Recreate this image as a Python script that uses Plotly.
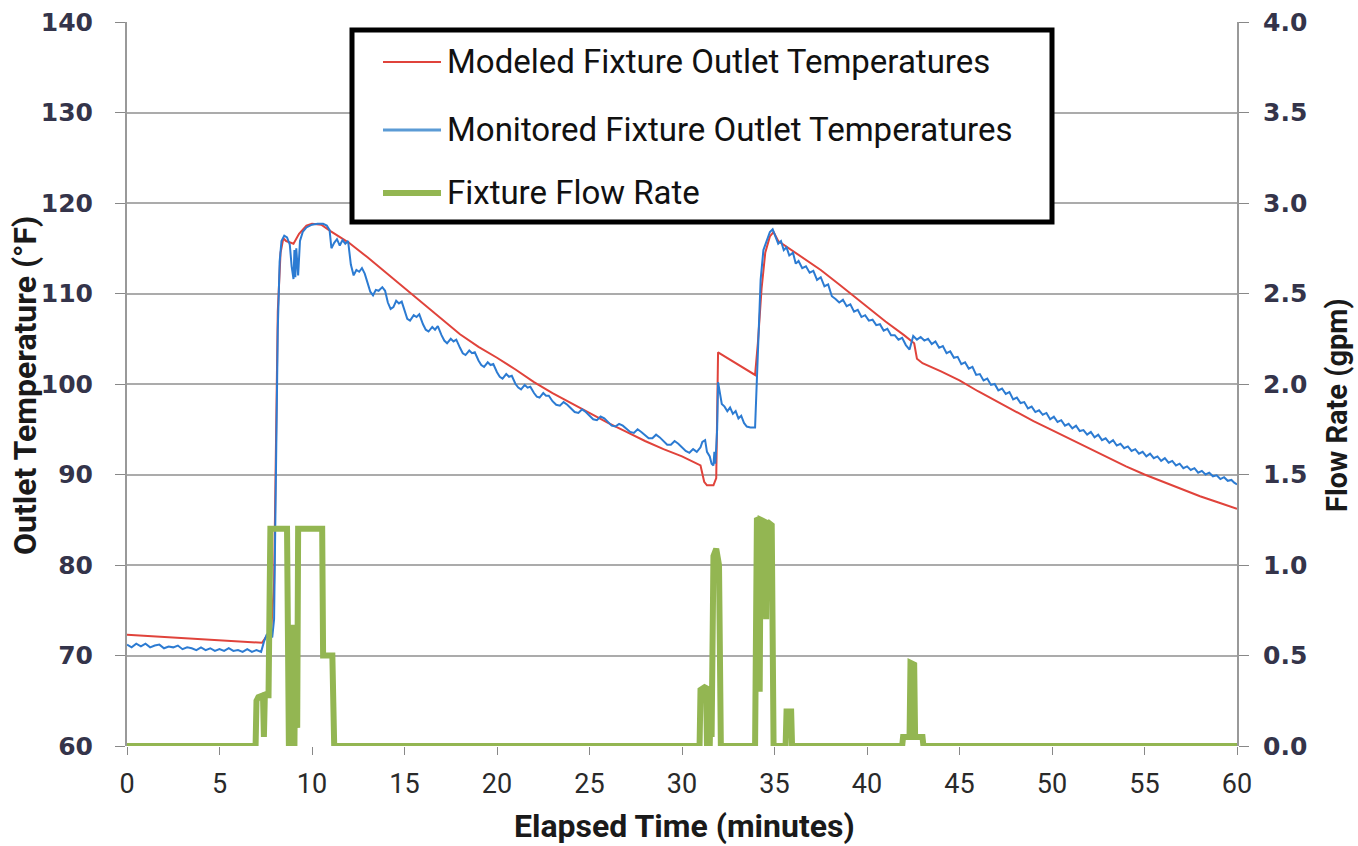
import plotly.graph_objects as go

# ---------------- data ----------------
red_t = [0, 7.0, 7.3, 7.5, 7.8, 7.95, 8.05, 8.15, 8.3, 8.45, 8.6, 9.0, 9.3, 9.7, 10.0, 10.5, 11.0,
         12, 13, 14, 15, 16, 17, 18, 19, 20, 21, 22, 23, 24, 25, 26, 27, 28, 29, 30, 31,
         31.2, 31.35, 31.7, 31.85, 31.95, 33.95, 34.1, 34.3, 34.5, 34.75, 34.95, 35.2, 36.2,
         37.5, 38.5, 40.0, 41.0, 42.0, 42.55, 42.7, 43.0, 44.0, 45.0, 46.0, 47.0, 48.0, 49.0,
         50.0, 51.0, 52.0, 53.0, 54.0, 55.0, 56.0, 57.0, 58.0, 59.0, 60.0]
red_v = [72.3, 71.5, 71.4, 72.0, 73.0, 78, 95, 108, 114.5, 116.1, 115.8, 115.5, 116.6, 117.5, 117.7, 117.6, 116.9,
         115.6, 114.0, 112.3, 110.6, 108.8, 107.1, 105.5, 104.1, 102.9, 101.6, 100.2, 99.0, 97.9, 96.8, 95.7, 94.7, 93.7, 92.8, 92.0, 91.0,
         89.2, 88.8, 88.8, 89.6, 103.5, 101.0, 104.5, 110.5, 114.5, 116.3, 116.8, 115.8, 114.4,
         112.6, 111.0, 108.5, 106.9, 105.4, 104.5, 102.8, 102.3, 101.4, 100.4, 99.2, 98.1, 97.0, 95.9,
         94.9, 93.9, 92.9, 91.9, 90.9, 90.0, 89.2, 88.4, 87.6, 86.9, 86.2]

blue_t = [0, 0.25, 0.5, 0.75, 1.0, 1.25, 1.5, 1.75, 2.0, 2.25, 2.5, 2.75, 3.0, 3.25, 3.5, 3.75,
          4.0, 4.25, 4.5, 4.75, 5.0, 5.25, 5.5, 5.75, 6.0, 6.25, 6.5, 6.75, 7.0, 7.25,
          7.4, 7.55, 7.7, 7.85, 7.95, 8.05, 8.15, 8.25, 8.35, 8.5, 8.65, 8.8, 8.9, 9.0, 9.05, 9.1,
          9.15, 9.25, 9.35, 9.5, 9.7, 10.0, 10.3, 10.6, 10.8, 10.95, 11.05, 11.2, 11.35, 11.5,
          11.65, 11.8, 11.95, 12.1, 12.25, 12.4, 12.55, 12.7, 12.85, 13.0, 13.15, 13.3, 13.45,
          13.6, 13.8, 13.95, 14.1, 14.25, 14.4, 14.55, 14.7, 14.85, 15.0, 15.15, 15.3, 15.5,
          15.65, 15.8, 16.0, 16.15, 16.3, 16.5, 16.65, 16.8, 17.0, 17.15, 17.3, 17.5, 17.65,
          17.8, 18.0, 18.15, 18.3, 18.5, 18.65, 18.8, 19.0, 19.15, 19.3, 19.5, 19.65, 19.8,
          20.0, 20.15, 20.3, 20.5, 20.65, 20.8, 21.0, 21.15, 21.3, 21.5, 21.65, 21.8, 22.0,
          22.15, 22.3, 22.5, 22.65, 22.8, 23.0, 23.2, 23.4, 23.6, 23.8, 24.0, 24.2, 24.4, 24.6,
          24.8, 25.0, 25.2, 25.4, 25.6, 25.8, 26.0, 26.2, 26.4, 26.6, 26.8, 27.0, 27.2, 27.4,
          27.6, 27.8, 28.0, 28.2, 28.4, 28.6, 28.8, 29.0, 29.2, 29.4, 29.6, 29.8, 30.0, 30.2,
          30.4, 30.6, 30.8, 31.0, 31.1, 31.25, 31.35, 31.5, 31.6, 31.7, 31.75, 31.8, 31.85,
          31.9, 31.95, 32.05, 32.15, 32.3, 32.45, 32.6, 32.75, 32.9, 33.05, 33.2, 33.35, 33.5,
          33.7, 33.95, 34.05, 34.15, 34.25, 34.4, 34.6, 34.75, 34.9, 35.05, 35.2, 35.35, 35.5,
          35.65, 35.8, 36.0, 36.15, 36.3, 36.5, 36.7, 36.9, 37.1, 37.3, 37.5, 37.7, 37.9, 38.1,
          38.3, 38.5, 38.7, 38.9, 39.1, 39.3, 39.5, 39.7, 39.9, 40.1, 40.3, 40.5, 40.7, 40.9,
          41.1, 41.3, 41.5, 41.7, 41.9, 42.1, 42.3, 42.4, 42.5, 42.7, 42.9, 43.1, 43.3, 43.5,
          43.7, 43.9, 44.1, 44.3, 44.5, 44.7, 44.9, 45.1, 45.3, 45.5, 45.7, 45.9, 46.1, 46.3,
          46.5, 46.7, 46.9, 47.1, 47.3, 47.5, 47.7, 47.9, 48.1, 48.3, 48.5, 48.7, 48.9, 49.1,
          49.3, 49.5, 49.7, 49.9, 50.1, 50.3, 50.5, 50.7, 50.9, 51.1, 51.3, 51.5, 51.7, 51.9,
          52.1, 52.3, 52.5, 52.7, 52.9, 53.1, 53.3, 53.5, 53.7, 53.9, 54.1, 54.3, 54.5, 54.7,
          54.9, 55.1, 55.3, 55.5, 55.7, 55.9, 56.1, 56.3, 56.5, 56.7, 56.9, 57.1, 57.3, 57.5,
          57.7, 57.9, 58.1, 58.3, 58.5, 58.7, 58.9, 59.1, 59.3, 59.5, 59.7, 59.85, 60.0]
blue_v = [71.2, 70.9, 71.3, 71.0, 71.3, 70.9, 71.1, 71.2, 70.8, 71.0, 70.9, 71.1, 70.7, 70.9, 70.8, 70.6,
          70.9, 70.6, 70.8, 70.5, 70.7, 70.5, 70.8, 70.5, 70.6, 70.4, 70.7, 70.4, 70.6, 70.4,
          71.5, 72.3, 72.5, 72.0, 74.0, 90.0, 106.0, 113.5, 115.8, 116.4, 116.2, 115.4, 113.0, 111.6, 114.8, 111.8,
          115.0, 112.0, 115.8, 116.8, 117.3, 117.6, 117.7, 117.7, 117.5, 117.0, 115.0, 115.6, 116.0, 115.3,
          115.9, 115.5, 115.8, 113.2, 112.0, 112.6, 112.4, 112.8, 112.2, 111.2, 110.2, 109.8, 110.4,
          110.3, 110.7, 110.3, 109.0, 108.3, 108.5, 109.2, 108.9, 109.1, 108.2, 107.2, 107.0, 107.6,
          107.4, 107.7, 106.6, 106.0, 105.8, 106.3, 106.0, 106.4, 105.4, 104.8, 104.5, 105.0, 104.7,
          104.9, 104.0, 103.4, 103.2, 103.7, 103.4, 103.5, 102.6, 102.1, 101.9, 102.4, 102.1, 102.2,
          101.3, 100.8, 100.6, 101.1, 100.8, 100.9, 100.0, 99.6, 99.4, 99.9, 99.6, 99.7, 99.0,
          98.6, 98.5, 99.0, 98.7, 98.7, 98.1, 97.7, 97.6, 98.0, 97.7, 97.3, 96.9, 96.8, 97.2,
          96.9, 96.5, 96.1, 96.0, 96.4, 96.2, 95.8, 95.4, 95.3, 95.6, 95.4, 95.0, 94.7, 94.6,
          95.0, 94.7, 94.3, 94.0, 94.0, 94.4, 94.1, 93.7, 93.3, 93.3, 93.7, 93.4, 93.0, 92.6,
          92.4, 92.8, 92.5, 93.0, 93.6, 93.8, 92.5, 92.0, 91.2, 91.0, 92.5, 91.2, 93.0,
          95.0, 100.2, 99.0, 97.8, 97.5, 97.0, 97.4, 96.7, 97.0, 96.2, 96.5, 95.7, 95.3,
          95.2, 95.2, 100.5, 108.0, 111.5, 114.8, 116.0, 116.8, 117.1, 116.4, 115.5, 115.8, 114.8,
          115.1, 114.2, 114.5, 113.3, 113.6, 112.8, 113.0, 112.3, 112.5, 111.5, 111.8, 110.8, 111.0, 109.7,
          109.4, 109.0, 109.3, 108.6, 108.8, 108.0, 108.2, 107.4, 107.6, 107.0, 107.1, 106.5, 106.6, 105.9,
          106.1, 105.4, 105.4, 104.9, 105.1, 104.3, 103.8, 104.6, 105.3, 104.9, 105.2, 104.8, 105.0, 104.4,
          104.7, 104.0, 104.2, 103.4, 103.6, 102.9, 103.0, 102.2, 102.4, 101.7, 101.9, 101.0, 101.1, 100.4,
          100.6, 99.9, 100.0, 99.3, 99.5, 98.9, 99.1, 98.3, 98.5, 97.9, 98.0, 97.3, 97.5, 96.9,
          97.1, 96.6, 96.8, 96.1, 96.4, 95.8, 96.0, 95.4, 95.6, 95.1, 95.4, 94.8, 94.9, 94.4,
          94.7, 94.1, 94.4, 93.8, 94.0, 93.5, 93.8, 93.2, 93.4, 92.9, 93.1, 92.6, 92.8, 92.3,
          92.5, 92.0, 92.3, 91.8, 92.0, 91.5, 91.8, 91.3, 91.5, 91.0, 91.2, 90.7, 90.9, 90.5,
          90.7, 90.2, 90.4, 90.0, 90.2, 89.8, 89.9, 89.5, 89.7, 89.3, 89.4, 89.1, 88.9]

flow_t = [0, 6.95, 7.0, 7.1, 7.35, 7.4, 7.45, 7.65, 7.75, 8.65, 8.75, 8.8, 8.85, 8.95, 9.05, 9.1,
          9.2, 9.25, 10.55, 10.6, 11.1, 11.2, 30.95, 31.0, 31.3, 31.35, 31.4, 31.5, 31.55, 31.6,
          31.7, 31.85, 32.0, 32.1, 33.95, 34.05, 34.15, 34.2, 34.25, 34.45, 34.55, 34.6, 34.85,
          34.95, 35.6, 35.65, 35.9, 35.95, 41.9, 41.95, 42.3, 42.35, 42.55, 42.6, 43.0, 43.05, 60]
flow_v = [0, 0, 0.25, 0.27, 0.28, 0.05, 0.28, 0.28, 1.2, 1.2, 0.0, 0.3, 0.0, 0.67, 0.0, 0.67,
          0.1, 1.2, 1.2, 0.5, 0.5, 0, 0, 0.31, 0.33, 0.0, 0.33, 0.0, 0.3, 0.05,
          1.05, 1.09, 1.0, 0, 0, 1.26, 1.25, 0.3, 1.25, 1.24, 0.7, 1.24, 1.22,
          0, 0, 0.19, 0.19, 0, 0, 0.05, 0.05, 0.46, 0.45, 0.05, 0.05, 0, 0]

x_ticks = [0, 5, 10, 15, 20, 25, 30, 35, 40, 45, 50, 55, 60]
y_ticks = [60, 70, 80, 90, 100, 110, 120, 130, 140]
y2_ticks = [0.0, 0.5, 1.0, 1.5, 2.0, 2.5, 3.0, 3.5, 4.0]

names = ["Modeled Fixture Outlet Temperatures",
         "Monitored Fixture Outlet Temperatures",
         "Fixture Flow Rate"]

# ---------------- styling ----------------
RED = "#E0433B"
BLUE = "#2C7BD2"
GREEN = "#93B652"
GRID = "#ABABAB"
TICK_COLOR = "#34344A"
SANS = "Roboto, Lato, sans-serif"

W, H = 1358, 846
L, R, T, B = 127, 121, 22, 100
PW, PH = W - L - R, H - T - B


def px(xp):
    return (xp - L) / PW


def py(yp):
    return 1 - (yp - T) / PH


fig = go.Figure()
fig.add_trace(go.Scatter(x=flow_t, y=flow_v, mode="lines", name=names[2], yaxis="y2",
                         line=dict(color=GREEN, width=6), showlegend=False))
fig.add_trace(go.Scatter(x=red_t, y=red_v, mode="lines", name=names[0],
                         line=dict(color=RED, width=2), showlegend=False))
fig.add_trace(go.Scatter(x=blue_t, y=blue_v, mode="lines", name=names[1],
                         line=dict(color=BLUE, width=2), showlegend=False))

shapes = []
annotations = []

# legend box (manual)
shapes.append(dict(type="rect", xref="paper", yref="paper",
                   x0=px(352), x1=px(1052), y0=py(222), y1=py(30),
                   line=dict(color="black", width=5), fillcolor="white", layer="above"))
leg_y = [62, 130, 193]
leg_col = [RED, "#5B9BD5", GREEN]
leg_w = [2, 3, 6]
for yy, c, w, n in zip(leg_y, leg_col, leg_w, names):
    shapes.append(dict(type="line", xref="paper", yref="paper",
                       x0=px(383), x1=px(441), y0=py(yy), y1=py(yy),
                       line=dict(color=c, width=w), layer="above"))
    annotations.append(dict(xref="paper", yref="paper", x=px(445), y=py(yy), text=n,
                            showarrow=False, xanchor="left", yanchor="middle",
                            font=dict(family=SANS, size=33, color="#111111")))

# axis titles
annotations.append(dict(xref="paper", yref="paper", x=px(25), y=py(386),
                        text="<b>Outlet Temperature (°F)</b>", textangle=-90, showarrow=False,
                        xanchor="center", yanchor="middle",
                        font=dict(family=SANS, size=32, color="#1a1a1a")))
annotations.append(dict(xref="paper", yref="paper", x=px(1337), y=py(405),
                        text="<b>Flow Rate (gpm)</b>", textangle=-90, showarrow=False,
                        xanchor="center", yanchor="middle",
                        font=dict(family=SANS, size=29, color="#1a1a1a")))
annotations.append(dict(xref="paper", yref="paper", x=px(684), y=py(826),
                        text="<b>Elapsed Time (minutes)</b>", showarrow=False,
                        xanchor="center", yanchor="middle",
                        font=dict(family=SANS, size=32, color="#1a1a1a")))

fig.update_layout(
    width=W, height=H,
    margin=dict(l=L, r=R, t=T, b=B, autoexpand=False),
    paper_bgcolor="white", plot_bgcolor="white",
    shapes=shapes, annotations=annotations,
    xaxis=dict(range=[0, 60], tickvals=x_ticks, ticktext=[str(v) for v in x_ticks],
               showgrid=False, zeroline=False, showline=False,
               ticks="outside", ticklen=8, tickcolor="#888888", tickwidth=1,
               tickfont=dict(family=SANS, size=27, color="#2a2a2a"), ticklabelstandoff=6),
    yaxis=dict(range=[60, 140], tickvals=y_ticks, ticktext=[str(v) for v in y_ticks],
               showgrid=True, gridcolor=GRID, gridwidth=2, zeroline=False,
               showline=True, linecolor="#999999", linewidth=2,
               ticks="outside", ticklen=10, tickcolor="#888888",
               tickfont=dict(family="DejaVu Sans", size=25, color=TICK_COLOR, weight="bold"),
               ticklabelstandoff=17),
    yaxis2=dict(range=[0, 4], tickvals=y2_ticks, ticktext=[f"{v:.1f}" for v in y2_ticks],
                overlaying="y", side="right", showgrid=False, zeroline=False,
                showline=True, linecolor="#999999", linewidth=2,
                ticks="outside", ticklen=10, tickcolor="#888888",
                tickfont=dict(family="DejaVu Sans", size=25, color=TICK_COLOR, weight="bold"),
                ticklabelstandoff=9),
)

fig.write_html("out.html", config={"displayModeBar": False},
               post_script="document.body.style.margin='0px';document.body.style.overflow='hidden';")
